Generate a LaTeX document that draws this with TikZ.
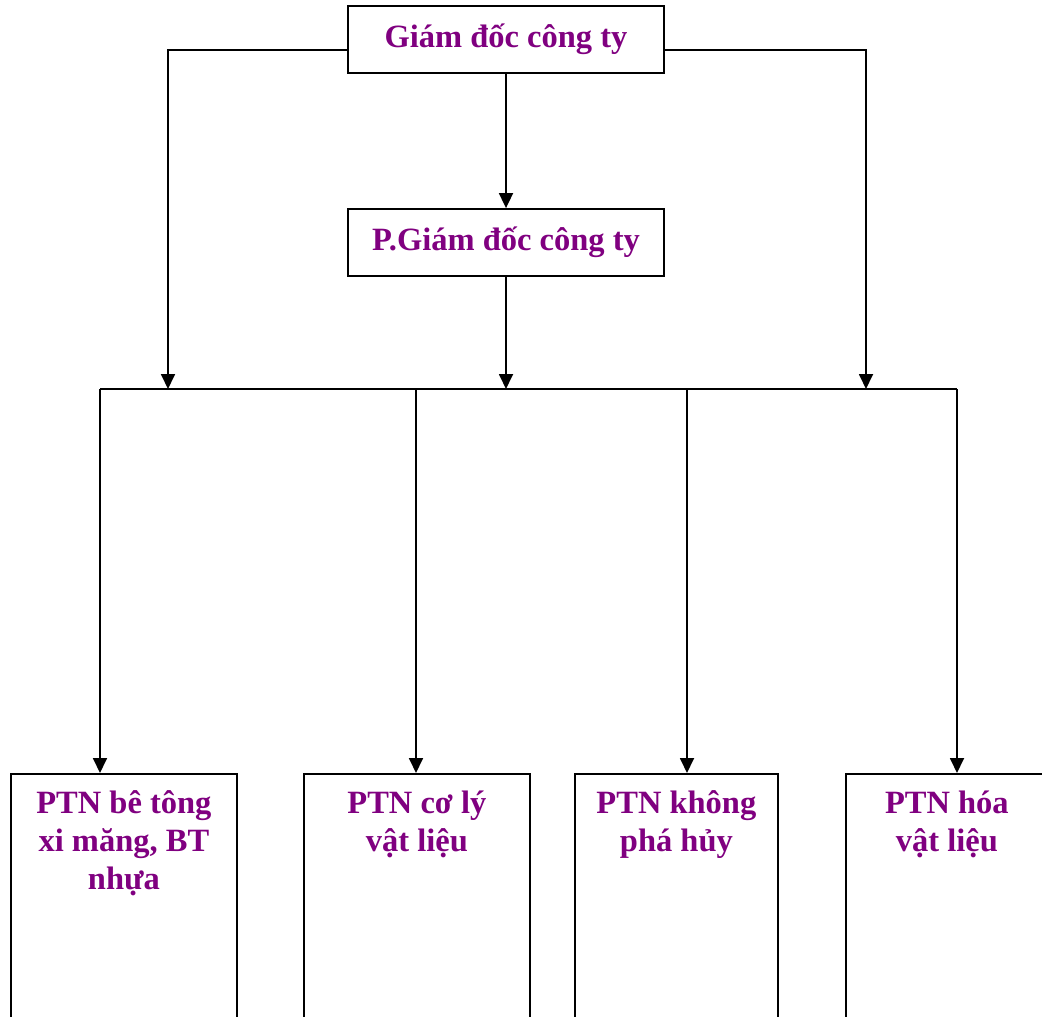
\documentclass[tikz,border=0pt]{standalone}
\usepackage{fontspec}
\setmainfont{Liberation Serif}
\usetikzlibrary{arrows.meta}
\definecolor{txtpurple}{HTML}{800080}
\begin{document}
\begin{tikzpicture}[x=1pt,y=-1pt,
  line width=1.8pt,
  arr/.style={-{Triangle[length=15pt,width=14pt]}},
  topbox/.style={draw, inner sep=0pt, minimum width=316pt, text height=41pt, text depth=26pt,
     font=\fontsize{32.5}{38}\selectfont\bfseries, text=txtpurple},
  labbox/.style={draw, inner sep=0pt, anchor=north west,
     font=\fontsize{32.5}{38}\selectfont\bfseries, text=txtpurple}]
\clip (0,0) rectangle (1042,1017);
\fill[white] (0,0) rectangle (1042,1017);
% top boxes
\node[topbox] (gd) at (506,39.5) {Giám đốc công ty};
\node[topbox] (pgd) at (506,242.5) {P.Giám đốc công ty};
% bottom boxes
\node[labbox] (b1) at (10,773) {\parbox[t][262pt][t]{226pt}{\centering\rule{0pt}{40pt}PTN bê tông\\xi măng, BT\\nhựa}};
\node[labbox] (b2) at (303,773) {\parbox[t][262pt][t]{226pt}{\centering\rule{0pt}{40pt}PTN cơ lý\\vật liệu}};
\node[labbox] (b3) at (574,773) {\parbox[t][262pt][t]{203pt}{\centering\rule{0pt}{40pt}PTN không\\phá hủy}};
\node[labbox] (b4) at (845,773) {\parbox[t][262pt][t]{202pt}{\centering\rule{0pt}{40pt}PTN hóa\\vật liệu}};
% bus coordinates
\coordinate (busL) at (100,389);
\coordinate (bus2) at (416,389);
\coordinate (bus3) at (687,389);
\coordinate (busR) at (957,389);
\coordinate (inL) at (168,389);
\coordinate (inC) at (506,389);
\coordinate (inR) at (866,389);
% connectors
\draw[arr] (gd.south) -- (pgd.north);
\draw[arr] ([yshift=-10.5pt]gd.west) -| (inL);
\draw[arr] ([yshift=-10.5pt]gd.east) -| (inR);
\draw[arr] (pgd.south) -- (inC);
\draw (busL) -- (busR);
\draw[arr] (busL) -- (busL |- b1.north);
\draw[arr] (bus2) -- (bus2 |- b2.north);
\draw[arr] (bus3) -- (bus3 |- b3.north);
\draw[arr] (busR) -- (busR |- b4.north);
\end{tikzpicture}
\end{document}
